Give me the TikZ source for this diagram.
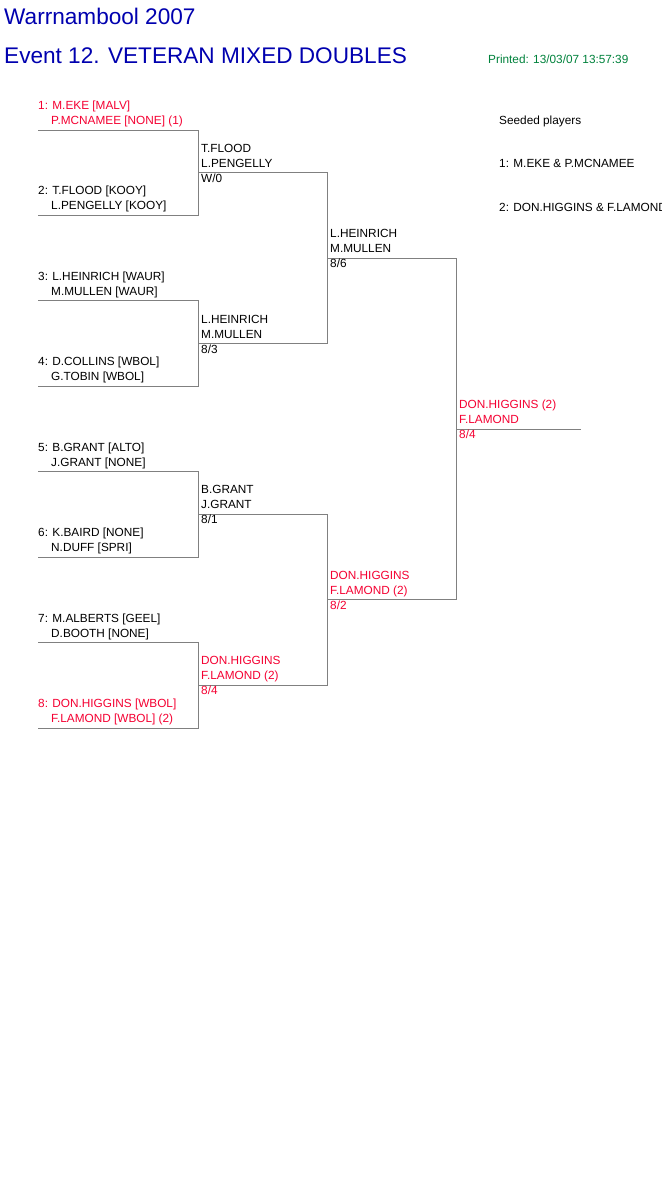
\documentclass[tikz,border=0pt]{standalone}
\usepackage{fontspec}
\setmainfont{Liberation Sans}
\usepackage{tikz}
\definecolor{titleblue}{RGB}{0,0,175}
\definecolor{seedred}{RGB}{245,0,50}
\definecolor{printgreen}{RGB}{0,130,60}

\begin{document}
\begin{tikzpicture}[x=1pt,y=-1pt]
    \tikzstyle{bracket} = [draw, gray, line width=0.9pt]
    \tikzstyle{txt} = [anchor=base west, inner sep=0pt, font=\fontsize{11.8}{15}\selectfont]
    \tikzstyle{seed} = [txt, text=seedred]
    \tikzstyle{big} = [anchor=base west, inner sep=0pt, text=titleblue, font=\fontsize{22.6}{27}\selectfont]
    \tikzstyle{lineone} = [xshift=3pt, yshift=20.5pt]
    \tikzstyle{linetwo} = [xshift=3pt, yshift=5.5pt]
    \tikzstyle{result} = [xshift=3pt, yshift=-9.5pt]

    \fill[white] (0,0) rectangle (661,1196);
    \useasboundingbox (0,0) rectangle (661,1196);

    % Headings
    \node[big] (title) at (4,25) {Warrnambool 2007};
    \node[big] (event) at (4,64) {Event 12. VETERAN MIXED DOUBLES};
    \node[txt, text=printgreen] (printed) at (488,63.3) {Printed: 13/03/07 13:57:39};

    % Seeded players
    \node[txt] (seeds) at (499,124.5) {Seeded players};
    \node[txt] (seedone) at (499,167.7) {1: M.EKE \& P.MCNAMEE};
    \node[txt] (seedtwo) at (499,211) {2: DON.HIGGINS \& F.LAMOND};

    % Slot ends for each round
    \foreach \i in {1,...,8} {
        \coordinate (a\i) at (38, {130+85.43*(\i-1)});
        \coordinate (b\i) at (198, {130+85.43*(\i-1)});
    }
    \foreach \k in {1,...,4} {
        \coordinate (c\k) at (198, {172.7+170.86*(\k-1)});
        \coordinate (d\k) at (327, {172.7+170.86*(\k-1)});
    }
    \foreach \k in {1,2} {
        \coordinate (e\k) at (327, {258.2+341.72*(\k-1)});
        \coordinate (f\k) at (456, {258.2+341.72*(\k-1)});
    }
    \coordinate (g) at (456,429);
    \coordinate (h) at (581,429);

    % Draw the draw lines
    \foreach \i/\j in {1/2,3/4,5/6,7/8} {
        \draw[bracket] (a\i) -- (b\i) -- (b\j) -- (a\j);
    }
    \foreach \i/\j in {1/2,3/4} {
        \draw[bracket] (c\i) -- (d\i) -- (d\j) -- (c\j);
    }
    \draw[bracket] (e1) -- (f1) -- (f2) -- (e2);
    \draw[bracket] (g) -- (h);

    % First round pairs
    \foreach \i/\s/\p/\q in {1/seed/{1: M.EKE [MALV]}/{P.MCNAMEE [NONE] (1)},
                             2/txt/{2: T.FLOOD [KOOY]}/{L.PENGELLY [KOOY]},
                             3/txt/{3: L.HEINRICH [WAUR]}/{M.MULLEN [WAUR]},
                             4/txt/{4: D.COLLINS [WBOL]}/{G.TOBIN [WBOL]},
                             5/txt/{5: B.GRANT [ALTO]}/{J.GRANT [NONE]},
                             6/txt/{6: K.BAIRD [NONE]}/{N.DUFF [SPRI]},
                             7/txt/{7: M.ALBERTS [GEEL]}/{D.BOOTH [NONE]},
                             8/seed/{8: DON.HIGGINS [WBOL]}/{F.LAMOND [WBOL] (2)}} {
        \node[\s] (p\i a) at (38, {109.5+85.43*(\i-1)}) {\p};
        \node[\s] (p\i b) at (51, {124.5+85.43*(\i-1)}) {\q};
    }

    % Second round
    \node[txt, lineone] (q1a) at (c1) {T.FLOOD};
    \node[txt, linetwo] (q1b) at (c1) {L.PENGELLY};
    \node[txt, result] (q1c) at (c1) {W/0};
    \node[txt, lineone] (q2a) at (c2) {L.HEINRICH};
    \node[txt, linetwo] (q2b) at (c2) {M.MULLEN};
    \node[txt, result] (q2c) at (c2) {8/3};
    \node[txt, lineone] (q3a) at (c3) {B.GRANT};
    \node[txt, linetwo] (q3b) at (c3) {J.GRANT};
    \node[txt, result] (q3c) at (c3) {8/1};
    \node[seed, lineone] (q4a) at (c4) {DON.HIGGINS};
    \node[seed, linetwo] (q4b) at (c4) {F.LAMOND (2)};
    \node[seed, result] (q4c) at (c4) {8/4};

    % Semi finals
    \node[txt, lineone] (s1a) at (e1) {L.HEINRICH};
    \node[txt, linetwo] (s1b) at (e1) {M.MULLEN};
    \node[txt, result] (s1c) at (e1) {8/6};
    \node[seed, lineone] (s2a) at (e2) {DON.HIGGINS};
    \node[seed, linetwo] (s2b) at (e2) {F.LAMOND (2)};
    \node[seed, result] (s2c) at (e2) {8/2};

    % Winner
    \node[seed, lineone] (wa) at (g) {DON.HIGGINS (2)};
    \node[seed, linetwo] (wb) at (g) {F.LAMOND};
    \node[seed, result] (wc) at (g) {8/4};
\end{tikzpicture}
\end{document}
